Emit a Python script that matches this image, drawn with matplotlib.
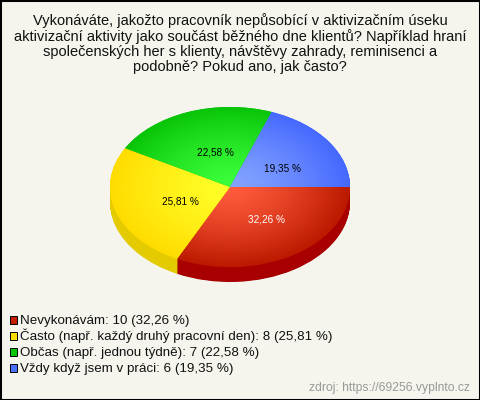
import numpy as np
import matplotlib
matplotlib.use("Agg")
import matplotlib.pyplot as plt
from matplotlib.colors import LinearSegmentedColormap
from matplotlib.patches import Rectangle

plt.rcParams["font.family"] = ["Liberation Sans", "DejaVu Sans"]

title_lines = ["Vykonáváte, jakožto pracovník nepůsobící v aktivizačním úseku",
               "aktivizační aktivity jako součást běžného dne klientů? Například hraní",
               "společenských her s klienty, návštěvy zahrady, reminisenci a",
               "podobně? Pokud ano, jak často?"]

categories = ["Nevykonávám", "Často (např. každý druhý pracovní den)",
              "Občas (např. jednou týdně)", "Vždy když jsem v práci"]
counts = [10, 8, 7, 6]
percents = ["32,26", "25,81", "22,58", "19,35"]

# colours: centre of the gradient, rim of the gradient, side of the pie
centre_cols = ["#ff5c3e", "#ffff28", "#3cff3c", "#84a4ff"]
rim_cols = ["#bc1a00", "#ffdc00", "#08c408", "#4568ff"]
side_cols = ["#a80000", "#e3cb00", "#08a008", "#3050d0"]
legend_cols = ["#c42000", "#ffdc00", "#08c408", "#4a70ff"]
label_cols = ["white", "black", "black", "black"]

W, H = 480, 400
cx, cy, rx, ry, depth = 230, 187, 120, 80, 15
bg = "#f5f5ee"

fig = plt.figure(figsize=(W / 100, H / 100), dpi=100, facecolor=bg)


def fx(px):
    return px / W


def fy(py):
    return 1 - py / H


# pie axes: one data unit is rx wide and ry tall
xlim = (-1.1, 1.1)
ylim = (-1.4, 1.1)
ax = fig.add_axes([fx(cx + xlim[0] * rx), fy(cy - ylim[0] * ry),
                   (xlim[1] - xlim[0]) * rx / W, (ylim[1] - ylim[0]) * ry / H])

# side of the pie: the same pie stacked downwards
for d in np.arange(depth, 0, -0.5):
    ax.pie(counts, colors=side_cols, startangle=0, counterclock=False,
           center=(0, -d / ry), radius=1, wedgeprops={"linewidth": 0})

# top of the pie
wedges, _ = ax.pie(counts, colors=rim_cols, startangle=0, counterclock=False,
                   radius=1, wedgeprops={"linewidth": 0})

gx, gy = np.meshgrid(np.linspace(-1, 1, 400), np.linspace(-1, 1, 400))
dist = np.clip(np.hypot(gx, gy), 0, 1) ** 1.3
for w, c0, c1 in zip(wedges, centre_cols, rim_cols):
    cmap = LinearSegmentedColormap.from_list("g", [c0, c1])
    im = ax.imshow(dist, extent=(-1, 1, -1, 1), origin="lower", cmap=cmap,
                   vmin=0, vmax=1, aspect="auto", zorder=3)
    im.set_clip_path(w)

ax.set_xlim(xlim)
ax.set_ylim(ylim)
ax.set_aspect("auto")
ax.axis("off")

# slice labels
label_x = [266.7, 180.5, 215.7, 282]
label_y = [219.5, 201.5, 152.5, 168.5]
for p, c, lx, ly in zip(percents, label_cols, label_x, label_y):
    fig.text(fx(lx), fy(ly), p + " %", color=c, fontsize=7.2, ha="center", va="center")

# title
for i, line in enumerate(title_lines):
    fig.text(fx(240), fy(25.5 + i * 15.2), line, fontsize=10.55, ha="center", va="baseline", color="#111111")

# legend
for i, (name, n, p, col) in enumerate(zip(categories, counts, percents, legend_cols)):
    y = 324 + i * 16
    fig.add_artist(Rectangle((fx(9.5), fy(y - 0.5)), 7.5 / W, 7.5 / H, transform=fig.transFigure,
                             facecolor=col, edgecolor="black", linewidth=0.7))
    fig.text(fx(20), fy(y), f"{name}: {n} ({p} %)", fontsize=9.6, ha="left", va="baseline", color="#111111")

fig.text(fx(470), fy(391.5), "zdroj: https://69256.vyplnto.cz", fontsize=8.7, ha="right", va="baseline", color="#999999")

# frame
fig.add_artist(Rectangle((0, 0), 1, 1, transform=fig.transFigure, fill=False,
                         edgecolor="black", linewidth=2.2))

fig.savefig("out.png", dpi=100, facecolor=bg)
